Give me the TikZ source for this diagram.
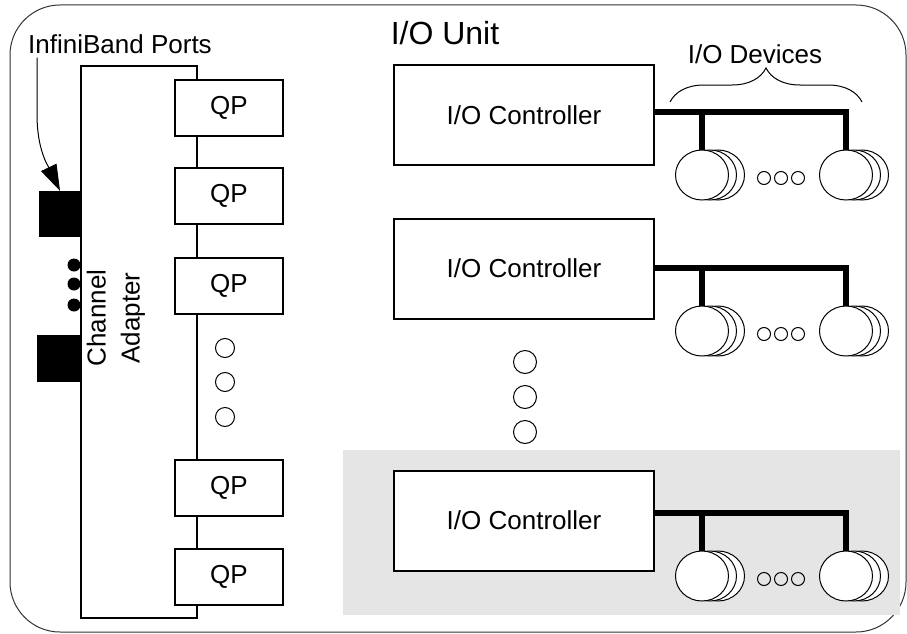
\documentclass[tikz,border=0pt]{standalone}
\usepackage{fontspec}
\setmainfont{Liberation Sans}
\usetikzlibrary{shapes.geometric,arrows.meta,decorations.pathreplacing}

\tikzset{
  qpbox/.style={draw, line width=2pt, fill=white, minimum width=108pt, minimum height=56pt, inner sep=0pt},
  iobox/.style={draw, line width=2pt, fill=white, minimum width=260pt, minimum height=100pt, inner sep=0pt},
  portblk/.style={fill=black, minimum width=42pt, minimum height=46pt, inner sep=0pt},
  disk/.style={draw, ellipse, fill=white, line width=1pt, minimum width=53pt, minimum height=50pt, inner sep=0pt},
  bus/.style={line width=5.5pt, line join=miter},
}

\begin{document}
\begin{tikzpicture}[x=1pt, y=-1pt, line cap=butt, font=\fontsize{26}{34}\selectfont]
    \useasboundingbox (0,0) rectangle (907,634);
    % frame of the unit and the shaded controller
    \draw[black!80, line width=1pt, rounded corners=50pt] (10,5) rectangle (906,632);
    \fill[black!10] (343,450) rectangle (900,615);
    \node[font=\fontsize{32}{38}\selectfont] (unit) at (445,33) {I/O Unit};

    % channel adapter with its ports
    \foreach \y in {265,284,305} \fill (74,\y) circle[radius=6.5];
    \node[draw, line width=2pt, fill=white, minimum width=116pt, minimum height=552pt, inner sep=0pt] (ca) at (139,342) {};
    \node[rotate=90, align=center] (catext) at (116,318) {Channel\\Adapter};
    \node[portblk] (port1) at (60,214) {};
    \node[portblk, minimum width=44pt, minimum height=47pt] (port2) at (59,358.5) {};
    \node[inner sep=0pt] (ibp) at (120,44) {InfiniBand Ports};
    \draw[-{Triangle[length=26pt,width=17pt]}, line width=1pt]
        ([shift={(9,4)}]ibp.south west) -- ++(0,57) .. controls +(0,35) and +(-12,-25) .. (port1.north);

    % queue pairs
    \foreach \y [count=\i] in {108,195.5,285.5,488,576.5}
        \node[qpbox] (qp\i) at (229,\y) {QP};
    \foreach \y in {348,382,417} \draw[line width=1pt] (225,\y) circle[radius=9.5];

    % controllers, each with a bus and two disk stacks
    \foreach \i/\y/\b in {1/115/112, 2/268.5/268, 3/520.5/513} {
        \node[iobox] (ioc\i) at (524,\y) {I/O Controller};
        \coordinate (bus\i) at (ioc\i.east |- 0,\b);
        \foreach \dx in {16,8} {
            \node[disk] at (702+\dx,\b+63) {};
            \node[disk] at (846+\dx,\b+63) {};
        }
        \node[disk] (dl\i) at (702,\b+63) {};
        \node[disk] (dr\i) at (846,\b+63) {};
        \draw[bus] (bus\i) -| (dr\i.north);
        \draw[bus] (dl\i.north) -- (dl\i.north |- bus\i);
        \foreach \dx in {62,79,96} \draw[line width=1pt] (702+\dx,\b+66) circle[radius=6.5];
    }
    \foreach \y in {362,397,432} \draw[line width=1pt] (525,\y) circle[radius=11.5];

    % devices brace
    \coordinate (brl) at (670,102);
    \coordinate (brr) at (862,102);
    \draw[decorate, decoration={brace, amplitude=34pt}, line width=1pt] (brl) -- (brr);
    \node (devs) at (755,54) {I/O Devices};
\end{tikzpicture}
\end{document}
